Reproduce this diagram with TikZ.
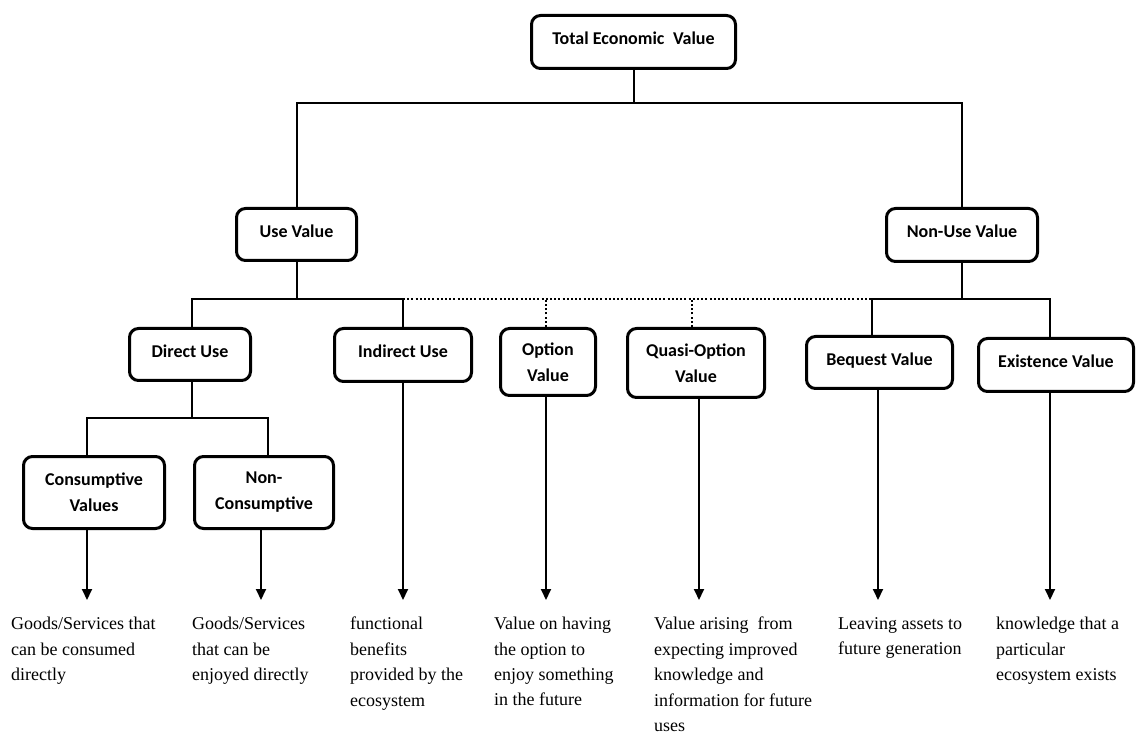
\documentclass[tikz,border=0pt]{standalone}
\usepackage{fontspec}
\setmainfont{Liberation Serif}
\newfontfamily\boxfont{Carlito}
\usetikzlibrary{arrows.meta}
\begin{document}
\begin{tikzpicture}[x=1pt,y=-1pt,
  box/.style={draw, line width=3pt, rounded corners=9pt, align=center,
    font=\boxfont\bfseries\fontsize{18}{26}\selectfont, inner sep=0pt},
  one/.style={text depth=7pt},
  link/.style={line width=2pt},
  dots/.style={line width=2pt, dash pattern=on 2pt off 2.2pt},
  arr/.style={line width=2pt, -{Triangle[length=11pt,width=10pt]}},
  desc/.style={anchor=north west, align=left, inner sep=0pt,
    font=\fontsize{18}{25.4}\selectfont}]
\useasboundingbox (0,0) rectangle (1136,735);

% boxes
\node[box,one,minimum width=204,minimum height=53] (tev) at (633.5,42) {Total Economic\hspace{0.25em} Value};
\node[box,one,minimum width=120,minimum height=52] (use) at (296.5,234.5) {Use Value};
\node[box,one,minimum width=151,minimum height=53] (nonuse) at (962,235) {Non-Use Value};
\node[box,one,minimum width=121,minimum height=52] (direct) at (190,354.5) {Direct Use};
\node[box,one,minimum width=137,minimum height=53] (indirect) at (403,355) {Indirect Use};
\node[box,minimum width=95,minimum height=67] (option) at (548,362) {Option\\Value};
\node[box,minimum width=137,minimum height=69] (quasi) at (696,363) {Quasi-Option\\Value};
\node[box,one,minimum width=146,minimum height=52] (bequest) at (879.5,362.5) {Bequest Value};
\node[box,one,minimum width=155,minimum height=53] (exist) at (1056,365) {Existence Value};
\node[box,minimum width=141,minimum height=72] (cons) at (94,492.5) {Consumptive\\Values};
\node[box,minimum width=139,minimum height=72] (noncons) at (264,492.5) {Non-\\Consumptive};

% junctions
\coordinate (j1) at (633.5,103);
\coordinate (j2) at (296.5,299);
\coordinate (j3) at (962,299);
\coordinate (j4) at (192,418);

% top level
\draw[link] (tev.south) -- (j1);
\draw[link] (use.north) |- (j1) -| (nonuse.north);

% use value
\draw[link] (use.south) -- (j2);
\draw[link] ([xshift=2pt]direct.north) |- (j2) -| (indirect.north);
\draw[dots] (indirect.north |- j2) -- ([xshift=-7.5pt]bequest.north |- j2);
\draw[dots] ([xshift=-2pt]option.north) -- ([xshift=-2pt]option.north |- j2);
\draw[dots] ([xshift=-4pt]quasi.north) -- ([xshift=-4pt]quasi.north |- j2);

% non-use value
\draw[link] (nonuse.south) -- (j3);
\draw[link] ([xshift=-7.5pt]bequest.north) |- (j3) -| ([xshift=-6pt]exist.north);

% direct use
\draw[link] ([xshift=2pt]direct.south) -- (j4);
\draw[link] ([xshift=-7pt]cons.north) |- (j4) -| ([xshift=4pt]noncons.north);

% arrow ends
\coordinate (e1) at (87,600);
\coordinate (e2) at (261,600);
\coordinate (e3) at (403,600);
\coordinate (e4) at (546,600);
\coordinate (e5) at (699,600);
\coordinate (e6) at (878,600);
\coordinate (e7) at (1050,600);

\draw[arr] ([xshift=-7pt]cons.south) -- (e1);
\draw[arr] ([xshift=-3pt]noncons.south) -- (e2);
\draw[arr] (indirect.south) -- (e3);
\draw[arr] ([xshift=-2pt]option.south) -- (e4);
\draw[arr] ([xshift=3pt]quasi.south) -- (e5);
\draw[arr] ([xshift=-1.5pt]bequest.south) -- (e6);
\draw[arr] ([xshift=-6pt]exist.south) -- (e7);

% descriptions
\node[desc] (d1) at (11,617) {Goods/Services that\\can be consumed\\directly};
\node[desc] (d2) at (192,617) {Goods/Services\\that can be\\enjoyed directly};
\node[desc] (d3) at (350,617) {functional\\benefits\\provided by the\\ecosystem};
\node[desc] (d4) at (494,617) {Value on having\\the option to\\enjoy something\\in the future};
\node[desc] (d5) at (654,617) {Value arising\hspace{0.25em} from\\expecting improved\\knowledge and\\information for future\\uses};
\node[desc] (d6) at (838,617) {Leaving assets to\\future generation};
\node[desc] (d7) at (996,617) {knowledge that a\\particular\\ecosystem exists};
\end{tikzpicture}
\end{document}
